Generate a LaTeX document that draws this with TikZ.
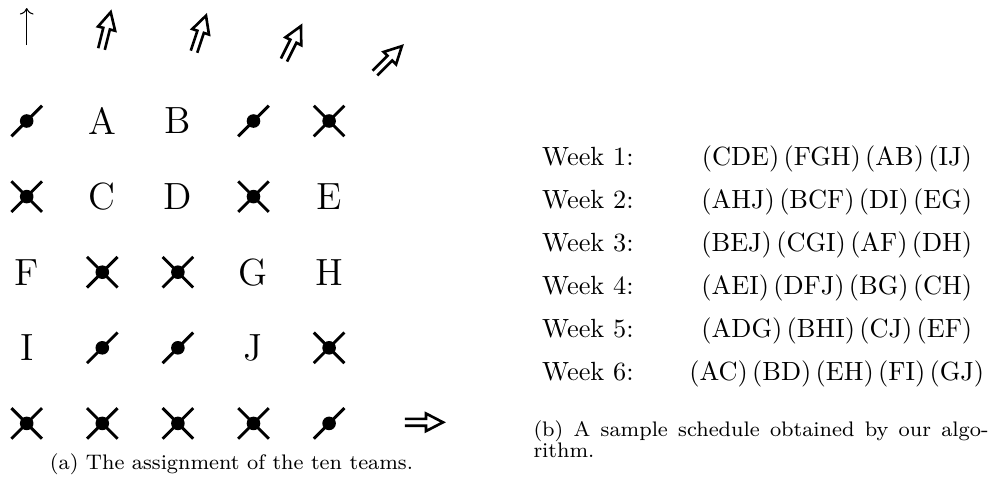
\documentclass[tikz,border=0pt]{standalone}
\usetikzlibrary{arrows.meta}
\begin{document}
\begin{tikzpicture}[x=0.38pt,y=-0.38pt,
  mark line/.style={line width=1.1pt},
  arrow line/.style={line width=1pt,line join=miter},
  letter/.style={font=\Large,inner sep=0pt},
  week/.style={font=\normalsize,anchor=base west,inner sep=0pt},
  games/.style={font=\normalsize,anchor=base,inner sep=0pt},
  capt/.style={font=\footnotesize,inner sep=0pt},
  xcross/.pic={
    \draw[mark line] (-15.3,-15.3) -- (15.3,15.3) (-15.3,15.3) -- (15.3,-15.3);
    \fill (0,0) circle[radius=6.8];},
  slash/.pic={
    \draw[mark line] (-15.3,15.3) -- (15.3,-15.3);
    \fill (0,0) circle[radius=6.8];},
  dblarrow/.pic={
    \draw[arrow line] (0,3.4) -- (21,3.4) -- (21,8.8) -- (38,0) -- (21,-8.8) -- (21,-3.4) -- (0,-3.4);},
]
\useasboundingbox (0,0) rectangle (993,476);

% grid of cells: columns and rows 75.6 apart
\def\cx#1{26.7+75.6*#1}
\def\ry#1{121+75.6*#1}
% a bracketed group of teams
\newcommand\grp[1]{\left(\mathrm{#1}\right)}

% row 1
\pic (s11) at ({\cx0},{\ry0}) {slash};
\node[letter] (A) at ({\cx1},{\ry0}) {A};
\node[letter] (B) at ({\cx2},{\ry0}) {B};
\pic (s14) at ({\cx3},{\ry0}) {slash};
\pic (x15) at ({\cx4},{\ry0}) {xcross};
% row 2
\pic (x21) at ({\cx0},{\ry1}) {xcross};
\node[letter] (C) at ({\cx1},{\ry1}) {C};
\node[letter] (D) at ({\cx2},{\ry1}) {D};
\pic (x24) at ({\cx3},{\ry1}) {xcross};
\node[letter] (E) at ({\cx4},{\ry1}) {E};
% row 3
\node[letter] (F) at ({\cx0},{\ry2}) {F};
\pic (x32) at ({\cx1},{\ry2}) {xcross};
\pic (x33) at ({\cx2},{\ry2}) {xcross};
\node[letter] (G) at ({\cx3},{\ry2}) {G};
\node[letter] (H) at ({\cx4},{\ry2}) {H};
% row 4
\node[letter] (I) at ({\cx0},{\ry3}) {I};
\pic (s42) at ({\cx1},{\ry3}) {slash};
\pic (s43) at ({\cx2},{\ry3}) {slash};
\node[letter] (J) at ({\cx3},{\ry3}) {J};
\pic (x45) at ({\cx4},{\ry3}) {xcross};
% row 5
\pic (x51) at ({\cx0},{\ry4}) {xcross};
\pic (x52) at ({\cx1},{\ry4}) {xcross};
\pic (x53) at ({\cx2},{\ry4}) {xcross};
\pic (x54) at ({\cx3},{\ry4}) {xcross};
\pic (s55) at ({\cx4},{\ry4}) {slash};

% direction arrows
\coordinate (up-tail) at (26.7,45);
\coordinate (up-tip) at (26.7,8);
\draw[line width=0.4pt,-{To}] (up-tail) -- (up-tip);
\pic[rotate=75.96] (d1) at (101.5,49) {dblarrow};
\pic[rotate=71.57] (d2) at (194,51.7) {dblarrow};
\pic[rotate=63.43] (d3) at (284,60) {dblarrow};
\pic[rotate=45] (d4) at (375,73) {dblarrow};
\pic (d5) at (405,422.3) {dblarrow};

\node[capt,anchor=base] (capa) at (231.5,469) {(a) The assignment of the ten teams.};

% schedule table
\foreach \k/\g in {
  1/{\grp{CDE}\grp{FGH}\grp{AB}\grp{IJ}},
  2/{\grp{AHJ}\grp{BCF}\grp{DI}\grp{EG}},
  3/{\grp{BEJ}\grp{CGI}\grp{AF}\grp{DH}},
  4/{\grp{AEI}\grp{DFJ}\grp{BG}\grp{CH}},
  5/{\grp{ADG}\grp{BHI}\grp{CJ}\grp{EF}},
  6/{\grp{AC}\grp{BD}\grp{EH}\grp{FI}\grp{GJ}}} {
  \node[week] (w\k) at (541.7,{165.5+43*(\k-1)}) {Week \k:};
  \node[games] (g\k) at (837,{165.5+43*(\k-1)}) {$\g$};
}

\node[capt,anchor=base west] (capb1) at (533,436)
  {\makebox[172.9pt][s]{(b) A sample schedule obtained by our algo-}};
\node[capt,anchor=base west] (capb2) at (533,457) {rithm.};
\end{tikzpicture}
\end{document}
